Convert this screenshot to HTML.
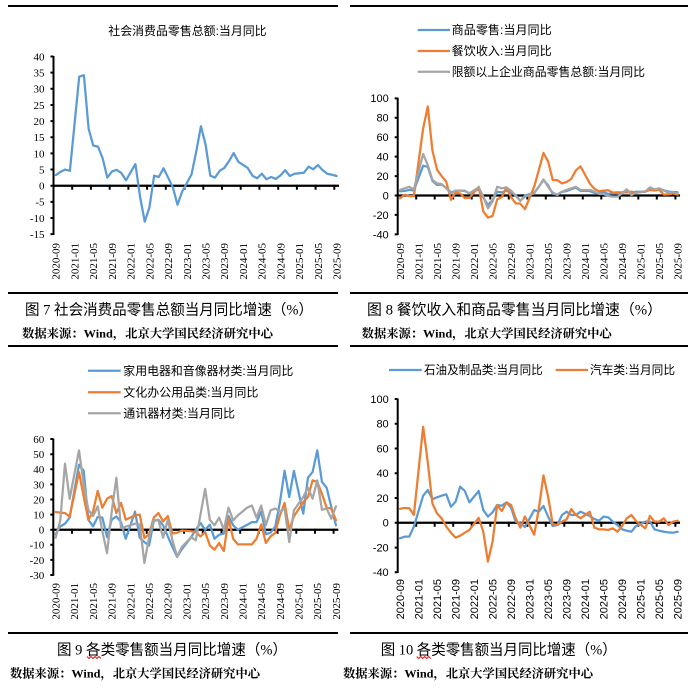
<!DOCTYPE html>
<html><head><meta charset="utf-8"><style>
html,body{margin:0;padding:0;background:#fff;}
svg{display:block;}
.ser{fill:none;stroke-width:2.25;stroke-linejoin:round;stroke-linecap:round;vector-effect:non-scaling-stroke;}
.b{stroke:#5B9BD5;}.o{stroke:#ED7D31;}.g{stroke:#A5A5A5;}
.cj{font-family:"Liberation Sans","Noto Sans CJK SC",sans-serif;font-size:12px;fill:#000;}
.cap{font-family:"Liberation Serif","Noto Sans CJK SC",sans-serif;font-size:15px;fill:#000;}
.src{font-family:"Liberation Serif","Noto Serif CJK SC",serif;font-size:12px;font-weight:bold;fill:#000;}
.tn{font-family:"Liberation Serif",serif;font-size:11px;fill:#000;}
.ar{font-family:"Liberation Sans",sans-serif;font-size:11px;fill:#000;}
</style></head><body>
<svg width="700" height="690" viewBox="0 0 700 690" xmlns="http://www.w3.org/2000/svg">
<rect width="700" height="690" fill="#fff"/>
<!-- frame lines -->
<g stroke="#000" stroke-width="2">
<line x1="8" y1="6" x2="338" y2="6"/><line x1="350" y1="6" x2="688" y2="6"/>
<line x1="8" y1="293" x2="338" y2="293"/><line x1="350" y1="293" x2="688" y2="293"/>
<line x1="8" y1="346" x2="338" y2="346"/><line x1="350" y1="346" x2="688" y2="346"/>
<line x1="8" y1="633" x2="338" y2="633"/><line x1="350" y1="633" x2="688" y2="633"/>
</g>

<!-- ================= CHART 7 ================= -->
<text class="cj" x="108.3" y="35" textLength="158.3" lengthAdjust="spacingAndGlyphs">社会消费品零售总额:当月同比</text>
<g stroke="#000" stroke-width="2" fill="none">
<line x1="53.5" y1="56" x2="53.5" y2="235"/>
<path d="M50.5 56.5h3M50.5 72.65h3M50.5 88.8h3M50.5 104.95h3M50.5 121.1h3M50.5 137.25h3M50.5 153.4h3M50.5 169.55h3M50.5 185.7h3M50.5 201.85h3M50.5 218h3M50.5 234.15h3"/>
</g>
<g class="tn" text-anchor="end">
<text x="44.5" y="56.5" dy="0.35em">40</text><text x="44.5" y="72.65" dy="0.35em">35</text><text x="44.5" y="88.8" dy="0.35em">30</text><text x="44.5" y="104.95" dy="0.35em">25</text><text x="44.5" y="121.1" dy="0.35em">20</text><text x="44.5" y="137.25" dy="0.35em">15</text><text x="44.5" y="153.4" dy="0.35em">10</text><text x="44.5" y="169.55" dy="0.35em">5</text><text x="44.5" y="185.7" dy="0.35em">0</text><text x="44.5" y="201.85" dy="0.35em">-5</text><text x="44.5" y="218" dy="0.35em">-10</text><text x="44.5" y="234.15" dy="0.35em">-15</text>
</g>
<g class="tn" text-anchor="end">
<text transform="translate(55.8,243) rotate(-90)" dy="0.35em">2020-09</text>
<text transform="translate(74.6,243) rotate(-90)" dy="0.35em">2021-01</text>
<text transform="translate(93.3,243) rotate(-90)" dy="0.35em">2021-05</text>
<text transform="translate(112.0,243) rotate(-90)" dy="0.35em">2021-09</text>
<text transform="translate(130.7,243) rotate(-90)" dy="0.35em">2022-01</text>
<text transform="translate(149.4,243) rotate(-90)" dy="0.35em">2022-05</text>
<text transform="translate(168.2,243) rotate(-90)" dy="0.35em">2022-09</text>
<text transform="translate(186.9,243) rotate(-90)" dy="0.35em">2023-01</text>
<text transform="translate(205.6,243) rotate(-90)" dy="0.35em">2023-05</text>
<text transform="translate(224.3,243) rotate(-90)" dy="0.35em">2023-09</text>
<text transform="translate(243.0,243) rotate(-90)" dy="0.35em">2024-01</text>
<text transform="translate(261.8,243) rotate(-90)" dy="0.35em">2024-05</text>
<text transform="translate(280.5,243) rotate(-90)" dy="0.35em">2024-09</text>
<text transform="translate(299.2,243) rotate(-90)" dy="0.35em">2025-01</text>
<text transform="translate(317.9,243) rotate(-90)" dy="0.35em">2025-05</text>
<text transform="translate(336.6,243) rotate(-90)" dy="0.35em">2025-09</text>
</g>
<g stroke="#000" fill="none">
<line x1="53.5" y1="185.7" x2="339" y2="185.7" stroke-width="2.25"/>
<path stroke-width="2" d="M72.2 184.7v5M90.9 184.7v5M109.7 184.7v5M128.4 184.7v5M147.1 184.7v5M165.8 184.7v5M184.5 184.7v5M203.3 184.7v5M222 184.7v5M240.7 184.7v5M259.4 184.7v5M278.2 184.7v5M296.9 184.7v5M315.6 184.7v5M334.3 184.7v5"/>
</g>
<g transform="translate(55.84,185.7) scale(4.68,-3.23)">
<polyline class="ser b" points="0,3.3 1,4.3 2,5 3,4.6 5,33.8 6,34.2 7,17.7 8,12.4 9,12.1 10,8.5 11,2.5 12,4.4 13,4.9 14,3.9 15,1.7 17,6.7 18,-3.5 19,-11.1 20,-6.7 21,3.1 22,2.7 23,5.4 24,2.5 25,-0.5 26,-5.9 27,-1.8 29,3.5 30,10.6 31,18.4 32,12.7 33,3.1 34,2.5 35,4.6 36,5.5 37,7.6 38,10.1 39,7.4 41,5.5 42,3.1 43,2.3 44,3.7 45,2 46,2.7 47,2.1 48,3.2 49,4.8 50,3 51,3.7 53,4 54,5.9 55,5.1 56,6.4 57,4.8 58,3.7 59,3.4 60,3"/>
</g>
<text class="cap" x="25" y="314.5" textLength="288" lengthAdjust="spacingAndGlyphs">图 7 社会消费品零售总额当月同比增速（%）</text>
<text class="src" x="22" y="337.5" textLength="251" lengthAdjust="spacingAndGlyphs">数据来源：Wind，北京大学国民经济研究中心</text>

<!-- ================= CHART 8 ================= -->
<g stroke-width="2.25">
<line x1="417.7" y1="30" x2="450" y2="30" stroke="#5B9BD5"/>
<line x1="417.7" y1="51" x2="450" y2="51" stroke="#ED7D31"/>
<line x1="417.7" y1="71.7" x2="450" y2="71.7" stroke="#A5A5A5"/>
</g>
<text class="cj" x="451.7" y="34.2" textLength="100" lengthAdjust="spacingAndGlyphs">商品零售:当月同比</text>
<text class="cj" x="451.7" y="55.2" textLength="100" lengthAdjust="spacingAndGlyphs">餐饮收入:当月同比</text>
<text class="cj" x="451.7" y="75.9" textLength="193.3" lengthAdjust="spacingAndGlyphs">限额以上企业商品零售总额:当月同比</text>
<g stroke="#000" stroke-width="2" fill="none">
<line x1="397.7" y1="97.8" x2="397.7" y2="235"/>
<path d="M394.7 98.35h3M394.7 117.8h3M394.7 137.2h3M394.7 156.6h3M394.7 176.1h3M394.7 195.5h3M394.7 214.9h3M394.7 234.4h3"/>
</g>
<g class="ar" text-anchor="end">
<text x="388.7" y="98.35" dy="0.35em">100</text><text x="388.7" y="117.8" dy="0.35em">80</text><text x="388.7" y="137.2" dy="0.35em">60</text><text x="388.7" y="156.6" dy="0.35em">40</text><text x="388.7" y="176.1" dy="0.35em">20</text><text x="388.7" y="195.5" dy="0.35em">0</text><text x="388.7" y="214.9" dy="0.35em">-20</text><text x="388.7" y="234.4" dy="0.35em">-40</text>
</g>
<g class="tn" text-anchor="end">
<text transform="translate(400.0,243) rotate(-90)" dy="0.35em">2020-09</text>
<text transform="translate(418.5,243) rotate(-90)" dy="0.35em">2021-01</text>
<text transform="translate(437.0,243) rotate(-90)" dy="0.35em">2021-05</text>
<text transform="translate(455.5,243) rotate(-90)" dy="0.35em">2021-09</text>
<text transform="translate(474.0,243) rotate(-90)" dy="0.35em">2022-01</text>
<text transform="translate(492.6,243) rotate(-90)" dy="0.35em">2022-05</text>
<text transform="translate(511.1,243) rotate(-90)" dy="0.35em">2022-09</text>
<text transform="translate(529.6,243) rotate(-90)" dy="0.35em">2023-01</text>
<text transform="translate(548.1,243) rotate(-90)" dy="0.35em">2023-05</text>
<text transform="translate(566.6,243) rotate(-90)" dy="0.35em">2023-09</text>
<text transform="translate(585.1,243) rotate(-90)" dy="0.35em">2024-01</text>
<text transform="translate(603.6,243) rotate(-90)" dy="0.35em">2024-05</text>
<text transform="translate(622.1,243) rotate(-90)" dy="0.35em">2024-09</text>
<text transform="translate(640.6,243) rotate(-90)" dy="0.35em">2025-01</text>
<text transform="translate(659.1,243) rotate(-90)" dy="0.35em">2025-05</text>
<text transform="translate(677.7,243) rotate(-90)" dy="0.35em">2025-09</text>
</g>
<g stroke="#000" fill="none">
<line x1="397.7" y1="195.5" x2="680" y2="195.5" stroke-width="2.25"/>
<path stroke-width="2" d="M416.2 194.5v5M434.7 194.5v5M453.2 194.5v5M471.7 194.5v5M490.3 194.5v5M508.8 194.5v5M527.3 194.5v5M545.8 194.5v5M564.3 194.5v5M582.8 194.5v5M601.3 194.5v5M619.8 194.5v5M638.3 194.5v5M656.8 194.5v5M675.4 194.5v5"/>
</g>
<g transform="translate(400.0,195.5) scale(4.628,-0.9715)">
<polyline class="ser b" points="0,4.3 1,4.7 2,5.8 3,5.2 5,30.7 6,29.4 7,15.1 8,10.9 9,11.2 10,7.9 11,3.3 12,4.5 13,5.2 14,4.6 15,2.2 17,6.5 18,-2.1 19,-9.7 20,-5 21,3.9 22,3.2 23,5.1 24,3 25,0.5 26,-5.6 27,-0.1 29,2.9 30,9.1 31,15.9 32,10.5 33,1.7 34,1 35,3.7 36,4.6 37,6.5 38,8 39,4.8 41,4.6 42,2.7 43,2 44,3.6 45,1.5 46,2.7 47,1.9 48,3.3 49,5 50,2.8 51,3.9 53,3.9 54,5.9 55,5.1 56,6.5 57,5.3 58,4 59,3.6 60,3.3"/>
<polyline class="ser o" points="0,-2.9 1,0.8 2,-0.6 3,-0.6 5,68.9 6,91.6 7,46.4 8,26.6 9,20 10,14.3 11,-4.5 12,3.1 13,2 14,-2.7 15,-2.5 17,8.9 18,-16.4 19,-22.7 20,-21.1 21,-4 22,-1.5 23,8.4 24,-1.7 25,-8.1 26,-8.4 27,-14.1 29,9.2 30,26.3 31,43.8 32,35.1 33,16.1 34,15.8 35,12.4 36,13.8 37,17.1 38,25.8 39,30 41,12.5 42,6.9 43,4.4 44,5 45,5.4 46,3 47,3.3 48,3.1 49,3.2 50,4 51,2.7 53,4.3 54,5.6 55,5.2 56,5.9 57,0.9 58,1.1 59,2.1 60,0.9"/>
<polyline class="ser g" points="0,5.7 1,7.4 2,9 3,6.3 5,42.7 6,31.4 7,16 8,12.5 9,11.8 10,7.4 11,2.2 12,5 13,5 14,5 15,2.2 17,8.4 18,-1.2 19,-13.2 20,-6.3 21,9 22,7.4 23,8.4 24,5 25,-0.5 26,-5.3 27,-1.2 29,2.2 30,9 31,16.6 32,9 33,2.9 34,0.5 35,4 36,5.7 37,7.4 38,9 39,5.7 41,5.7 42,4 43,1.5 44,1.5 45,-0.5 46,-1.2 47,-1.2 48,2.2 49,6.3 50,0.5 51,2.9 53,4 54,8.4 55,6.3 56,7.4 57,5 58,3 59,3.3 60,2.2"/>
</g>
<text class="cap" x="367" y="314.5" textLength="295" lengthAdjust="spacingAndGlyphs">图 8  餐饮收入和商品零售当月同比增速（%）</text>
<text class="src" x="361.7" y="337.5" textLength="250" lengthAdjust="spacingAndGlyphs">数据来源：Wind，北京大学国民经济研究中心</text>

<!-- ================= CHART 9 ================= -->
<g stroke-width="2.25">
<line x1="88" y1="370.7" x2="120.7" y2="370.7" stroke="#5B9BD5"/>
<line x1="88" y1="392.3" x2="120.7" y2="392.3" stroke="#ED7D31"/>
<line x1="88" y1="413.3" x2="120.7" y2="413.3" stroke="#A5A5A5"/>
</g>
<text class="cj" x="123.3" y="374.9" textLength="170" lengthAdjust="spacingAndGlyphs">家用电器和音像器材类:当月同比</text>
<text class="cj" x="123.3" y="396.5" textLength="135" lengthAdjust="spacingAndGlyphs">文化办公用品类:当月同比</text>
<text class="cj" x="123.3" y="417.5" textLength="111.7" lengthAdjust="spacingAndGlyphs">通讯器材类:当月同比</text>
<g stroke="#000" stroke-width="2" fill="none">
<line x1="53.3" y1="438.5" x2="53.3" y2="575.8"/>
<path d="M50.3 439h3M50.3 454.2h3M50.3 469.3h3M50.3 484.4h3M50.3 499.5h3M50.3 514.6h3M50.3 529.7h3M50.3 544.8h3M50.3 559.9h3M50.3 575h3"/>
</g>
<g class="tn" text-anchor="end">
<text x="44.3" y="439" dy="0.35em">60</text><text x="44.3" y="454.2" dy="0.35em">50</text><text x="44.3" y="469.3" dy="0.35em">40</text><text x="44.3" y="484.4" dy="0.35em">30</text><text x="44.3" y="499.5" dy="0.35em">20</text><text x="44.3" y="514.6" dy="0.35em">10</text><text x="44.3" y="529.7" dy="0.35em">0</text><text x="44.3" y="544.8" dy="0.35em">-10</text><text x="44.3" y="559.9" dy="0.35em">-20</text><text x="44.3" y="575" dy="0.35em">-30</text>
</g>
<g class="tn" text-anchor="end">
<text transform="translate(55.6,583) rotate(-90)" dy="0.35em">2020-09</text>
<text transform="translate(74.3,583) rotate(-90)" dy="0.35em">2021-01</text>
<text transform="translate(93.0,583) rotate(-90)" dy="0.35em">2021-05</text>
<text transform="translate(111.7,583) rotate(-90)" dy="0.35em">2021-09</text>
<text transform="translate(130.4,583) rotate(-90)" dy="0.35em">2022-01</text>
<text transform="translate(149.1,583) rotate(-90)" dy="0.35em">2022-05</text>
<text transform="translate(167.8,583) rotate(-90)" dy="0.35em">2022-09</text>
<text transform="translate(186.5,583) rotate(-90)" dy="0.35em">2023-01</text>
<text transform="translate(205.2,583) rotate(-90)" dy="0.35em">2023-05</text>
<text transform="translate(223.9,583) rotate(-90)" dy="0.35em">2023-09</text>
<text transform="translate(242.5,583) rotate(-90)" dy="0.35em">2024-01</text>
<text transform="translate(261.2,583) rotate(-90)" dy="0.35em">2024-05</text>
<text transform="translate(279.9,583) rotate(-90)" dy="0.35em">2024-09</text>
<text transform="translate(298.6,583) rotate(-90)" dy="0.35em">2025-01</text>
<text transform="translate(317.3,583) rotate(-90)" dy="0.35em">2025-05</text>
<text transform="translate(336.0,583) rotate(-90)" dy="0.35em">2025-09</text>
</g>
<g stroke="#000" fill="none">
<line x1="53.3" y1="529.7" x2="338.3" y2="529.7" stroke-width="2.25"/>
<path stroke-width="2" d="M72 528.7v5M90.7 528.7v5M109.4 528.7v5M128.1 528.7v5M146.7 528.7v5M165.4 528.7v5M184.1 528.7v5M202.8 528.7v5M221.5 528.7v5M240.2 528.7v5M258.9 528.7v5M277.6 528.7v5M296.3 528.7v5M315 528.7v5M333.6 528.7v5"/>
</g>
<g transform="translate(55.64,529.7) scale(4.672,-1.511)">
<polyline class="ser b" points="0,-3 1,2.2 2,4 3,8 5,43 6,39 7,6.6 8,2.2 9,8.4 10,8 11,-4.9 12,6.6 13,8.8 14,5 15,-6 17,12 18,-5.3 19,-8.2 20,-10.4 21,5.7 22,6.6 23,2.9 24,-4.4 25,-11.5 26,-18 27,-13 29,-5 30,0 31,4.4 32,0 33,3.3 34,-6 35,-3.3 36,-2.6 37,9 38,2.9 39,0 41,3.3 42,5 43,5 44,12 45,-3 46,-2 47,2 48,18 49,39 50,21.6 51,38.9 53,10.6 54,34.4 55,38.2 56,52.5 57,31.6 58,27.8 59,15 60,2.9"/>
<polyline class="ser o" points="0,11.7 1,11.3 2,11 3,8.8 5,38 6,22 7,6.6 8,12 9,25.6 10,14.6 11,20.5 12,22.3 13,11 14,17.7 15,6.6 17,9.5 18,10 19,-5.5 20,-3 21,8 22,11 23,5.5 24,9 25,-2.5 26,-2 27,-0.5 29,-1 30,-1.5 31,-4.5 32,-1.5 33,-10.4 34,-13.2 35,-8.8 36,-14.1 37,7.3 38,-6 39,-9.7 41,-9.7 42,-9.7 43,-6 44,3.5 45,-8.8 46,-4.4 47,-2.2 48,9.5 49,17.7 50,0 51,8.8 53,18.3 54,21.6 55,32.7 56,31.6 57,23.8 58,14.6 59,14 60,6.2"/>
<polyline class="ser g" points="0,-5.3 1,6.2 2,43.7 3,20.5 5,52.5 6,30 7,13.2 8,9 9,15.5 10,-1 11,-15.5 12,12 13,34.4 14,1 15,2 17,4 18,3.5 19,-22 20,-5 21,6.6 22,6.2 23,-5.3 24,6.6 25,-7 26,-17.7 27,-11.5 29,-5 30,-7 31,10 32,27 33,6.6 34,2.9 35,8 36,0 37,14.6 38,6.2 39,9.5 41,14.6 42,16 43,8 44,16 45,3 46,12.8 47,14 48,12 49,14 50,-8.2 51,12.8 53,21.6 54,27.8 55,20.5 56,32.7 57,13.2 58,14 59,7.3 60,15.5"/>
</g>
<text class="cap" x="57" y="654.5" textLength="230" lengthAdjust="spacingAndGlyphs">图 9 各类零售额当月同比增速（%）</text>
<polyline points="87,656.5 89,658.5 91,656.5 93,658.5 95,656.5 97,658.5 99,656.5 101,658.5" fill="none" stroke="#e02020" stroke-width="1"/>
<text class="src" x="10" y="677.5" textLength="250" lengthAdjust="spacingAndGlyphs">数据来源：Wind，北京大学国民经济研究中心</text>

<!-- ================= CHART 10 ================= -->
<g stroke-width="2.25">
<line x1="389" y1="370" x2="421.7" y2="370" stroke="#5B9BD5"/>
<line x1="555.7" y1="370" x2="588" y2="370" stroke="#ED7D31"/>
</g>
<text class="cj" x="424" y="374.2" textLength="118.7" lengthAdjust="spacingAndGlyphs">石油及制品类:当月同比</text>
<text class="cj" x="590" y="374.2" textLength="85" lengthAdjust="spacingAndGlyphs">汽车类:当月同比</text>
<g stroke="#000" stroke-width="2" fill="none">
<line x1="397.7" y1="398.5" x2="397.7" y2="573"/>
<path d="M394.7 399h3M394.7 423.8h3M394.7 448.5h3M394.7 473.3h3M394.7 498h3M394.7 522.8h3M394.7 547.6h3M394.7 572.3h3"/>
</g>
<g class="ar" text-anchor="end">
<text x="388.7" y="399" dy="0.35em">100</text><text x="388.7" y="423.8" dy="0.35em">80</text><text x="388.7" y="448.5" dy="0.35em">60</text><text x="388.7" y="473.3" dy="0.35em">40</text><text x="388.7" y="498" dy="0.35em">20</text><text x="388.7" y="522.8" dy="0.35em">0</text><text x="388.7" y="547.6" dy="0.35em">-20</text><text x="388.7" y="572.3" dy="0.35em">-40</text>
</g>
<g class="ar" text-anchor="end">
<text transform="translate(400.0,579) rotate(-90)" dy="0.35em">2020-09</text>
<text transform="translate(418.5,579) rotate(-90)" dy="0.35em">2021-01</text>
<text transform="translate(437.0,579) rotate(-90)" dy="0.35em">2021-05</text>
<text transform="translate(455.5,579) rotate(-90)" dy="0.35em">2021-09</text>
<text transform="translate(474.0,579) rotate(-90)" dy="0.35em">2022-01</text>
<text transform="translate(492.6,579) rotate(-90)" dy="0.35em">2022-05</text>
<text transform="translate(511.1,579) rotate(-90)" dy="0.35em">2022-09</text>
<text transform="translate(529.6,579) rotate(-90)" dy="0.35em">2023-01</text>
<text transform="translate(548.1,579) rotate(-90)" dy="0.35em">2023-05</text>
<text transform="translate(566.6,579) rotate(-90)" dy="0.35em">2023-09</text>
<text transform="translate(585.1,579) rotate(-90)" dy="0.35em">2024-01</text>
<text transform="translate(603.6,579) rotate(-90)" dy="0.35em">2024-05</text>
<text transform="translate(622.1,579) rotate(-90)" dy="0.35em">2024-09</text>
<text transform="translate(640.6,579) rotate(-90)" dy="0.35em">2025-01</text>
<text transform="translate(659.1,579) rotate(-90)" dy="0.35em">2025-05</text>
<text transform="translate(677.7,579) rotate(-90)" dy="0.35em">2025-09</text>
</g>
<g stroke="#000" fill="none">
<line x1="397.7" y1="522.8" x2="680" y2="522.8" stroke-width="2.25"/>
<path stroke-width="2" d="M416.2 521.8v5M434.7 521.8v5M453.2 521.8v5M471.7 521.8v5M490.3 521.8v5M508.8 521.8v5M527.3 521.8v5M545.8 521.8v5M564.3 521.8v5M582.8 521.8v5M601.3 521.8v5M619.8 521.8v5M638.3 521.8v5M656.8 521.8v5M675.4 521.8v5"/>
</g>
<g transform="translate(400.0,522.8) scale(4.628,-1.238)">
<polyline class="ser b" points="0,-12.5 1,-11.2 2,-11.2 3,-3.1 5,21.9 6,26.5 7,19 8,20.6 9,21.9 10,23 11,13 12,17 13,29.2 14,25.7 15,16.5 17,25.7 18,10.3 19,5 20,8.5 21,14.4 22,13.8 23,16.5 24,12.2 25,0.9 26,-0.4 27,-3.4 29,10.3 30,9 31,13.6 32,5 33,-2.6 34,-1.8 35,6.3 36,9 37,6.3 38,6.3 39,9 41,5.5 42,3 43,1.7 44,5 45,4.4 46,0.9 47,-1.8 48,-5.3 49,-6.4 50,-7.2 51,-2.6 53,0.9 54,1 55,-5.3 56,-6.4 57,-7.2 58,-7.7 59,-8 60,-7.2"/>
<polyline class="ser o" points="0,11.3 1,12 2,11.8 3,6.4 5,77.6 6,49 7,15.6 8,7.6 9,3.6 10,-3 11,-8 12,-12 13,-10.4 14,-8 15,-5.8 17,4 18,-7.2 19,-31.4 20,-15.2 21,14.4 22,9.5 23,16.5 24,14.4 25,3.6 26,-3.9 27,5 29,-9.6 30,11.5 31,38.3 32,21 33,-1 34,-1.8 35,0.9 36,2.8 37,11.1 38,6.3 39,3.6 41,9 42,-3.9 43,-5.3 44,-5.3 45,-5.8 46,-4.5 47,-7.2 48,-2.6 49,3.6 50,6.3 51,1.5 53,-4.5 54,5.5 55,0.9 56,0.9 57,3.6 58,-1.8 59,0.9 60,1.7"/>
</g>
<text class="cap" x="380.7" y="654.5" textLength="236" lengthAdjust="spacingAndGlyphs">图 10 各类零售额当月同比增速（%）</text>
<polyline points="416.7,656.5 418.7,658.5 420.7,656.5 422.7,658.5 424.7,656.5 426.7,658.5 428.7,656.5 430.7,658.5" fill="none" stroke="#e02020" stroke-width="1"/>
<text class="src" x="343" y="677.5" textLength="250" lengthAdjust="spacingAndGlyphs">数据来源：Wind，北京大学国民经济研究中心</text>
</svg>
</body></html>
